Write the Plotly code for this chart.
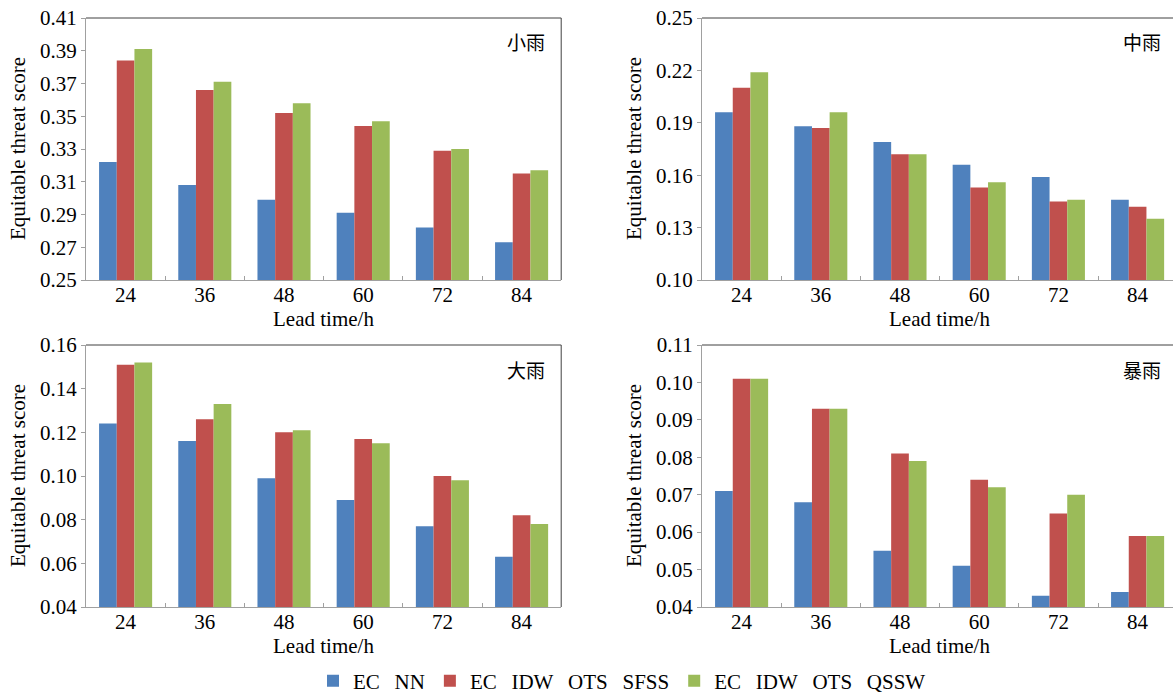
import plotly.graph_objects as go

W, H = 1173, 696

lead_times = ["24", "36", "48", "60", "72", "84"]
SP = "\u00a0\u00a0\u2009"
series_names = ["EC" + SP + "NN",
                "EC" + SP + "IDW" + SP + "OTS" + SP + "SFSS",
                "EC" + SP + "IDW" + SP + "OTS" + SP + "QSSW"]
colors = ["#4F81BD", "#C0504D", "#9BBB59"]

panel_titles = ["小雨", "中雨", "大雨", "暴雨"]

light_nn = [0.322, 0.308, 0.299, 0.291, 0.282, 0.273]
light_sfss = [0.384, 0.366, 0.352, 0.344, 0.329, 0.315]
light_qssw = [0.391, 0.371, 0.358, 0.347, 0.330, 0.317]

moderate_nn = [0.196, 0.188, 0.179, 0.166, 0.159, 0.146]
moderate_sfss = [0.210, 0.187, 0.172, 0.153, 0.145, 0.142]
moderate_qssw = [0.219, 0.196, 0.172, 0.156, 0.146, 0.135]

heavy_nn = [0.124, 0.116, 0.099, 0.089, 0.077, 0.063]
heavy_sfss = [0.151, 0.126, 0.120, 0.117, 0.100, 0.082]
heavy_qssw = [0.152, 0.133, 0.121, 0.115, 0.098, 0.078]

storm_nn = [0.071, 0.068, 0.055, 0.051, 0.043, 0.044]
storm_sfss = [0.101, 0.093, 0.081, 0.074, 0.065, 0.059]
storm_qssw = [0.101, 0.093, 0.079, 0.072, 0.070, 0.059]

y_ranges = [(0.25, 0.41, 0.02), (0.10, 0.25, 0.03), (0.04, 0.16, 0.02), (0.04, 0.11, 0.01)]

panels = [
    [light_nn, light_sfss, light_qssw],
    [moderate_nn, moderate_sfss, moderate_qssw],
    [heavy_nn, heavy_sfss, heavy_qssw],
    [storm_nn, storm_sfss, storm_qssw],
]

# pixel geometry of each plot area: (left, right_nominal, top, bottom)
CAT_W = 79.2
geo = [
    (86, 86 + 6 * CAT_W, 18, 280),
    (702, 702 + 6 * CAT_W, 18, 280),
    (86, 86 + 6 * CAT_W, 345, 607),
    (702, 702 + 6 * CAT_W, 345, 607),
]

FONT = "Liberation Serif, Times New Roman, serif"
CJK = "Noto Sans CJK SC"
FS = 21
AXIS_GRAY = "#A0A0A0"
FRAME = "#404040"

fig = go.Figure()
layout = dict(
    width=W, height=H,
    margin=dict(l=0, r=0, t=0, b=0, autoexpand=False),
    paper_bgcolor="white", plot_bgcolor="white",
    barmode="group", bargap=0.33, bargroupgap=0.0,
    font=dict(family=FONT, size=FS, color="black"),
    showlegend=True,
    legend=dict(orientation="h", x=622 / W, xanchor="center", y=1 - 681 / H, yanchor="middle",
                font=dict(family=FONT, size=FS, color="black"), itemwidth=30,
                bgcolor="rgba(0,0,0,0)"),
)
annotations = []
shapes = []

for i, (vals, (ymin, ymax, dt), (l, r, t, b)) in enumerate(zip(panels, y_ranges, geo)):
    xa = "x" if i == 0 else f"x{i+1}"
    ya = "y" if i == 0 else f"y{i+1}"
    for k in range(3):
        fig.add_trace(go.Bar(
            x=lead_times, y=vals[k], name=series_names[k],
            marker=dict(color=colors[k], line=dict(width=0)),
            xaxis=xa, yaxis=ya, showlegend=(i == 0), legendgroup=str(k),
        ))
    r_vis = min(r, W)
    x_end = -0.5 + (r_vis - l) / CAT_W
    xkey = "xaxis" if i == 0 else f"xaxis{i+1}"
    ykey = "yaxis" if i == 0 else f"yaxis{i+1}"
    layout[xkey] = dict(
        domain=[l / W, r_vis / W], anchor=ya, type="category",
        range=[-0.5, x_end], showline=True, linecolor=AXIS_GRAY, linewidth=1,
        ticks="inside", tickson="boundaries", ticklen=4, tickcolor=AXIS_GRAY,
        ticklabelstandoff=-4,
        showgrid=False, zeroline=False,
        tickfont=dict(family=FONT, size=FS, color="black"),
    )
    layout[ykey] = dict(
        domain=[1 - b / H, 1 - t / H], anchor=xa,
        range=[ymin, ymax], tick0=ymin, dtick=dt, tickformat=".2f",
        showline=True, linecolor=AXIS_GRAY, linewidth=1,
        ticks="outside", ticklen=4, tickcolor=AXIS_GRAY,
        showgrid=False, zeroline=False,
        tickfont=dict(family=FONT, size=FS, color="black"),
    )
    # frame top and right
    shapes.append(dict(type="line", xref="paper", yref="paper",
                       x0=l / W, x1=r_vis / W, y0=1 - t / H, y1=1 - t / H,
                       line=dict(color=FRAME, width=1)))
    if r <= W:
        shapes.append(dict(type="line", xref="paper", yref="paper",
                           x0=r / W, x1=r / W, y0=1 - t / H, y1=1 - b / H,
                           line=dict(color=FRAME, width=1)))
    # y title
    annotations.append(dict(text="Equitable threat score", xref="paper", yref="paper",
                            x=(l - 68) / W, y=1 - (t + b) / 2 / H, textangle=-90,
                            xanchor="center", yanchor="middle", showarrow=False,
                            font=dict(family=FONT, size=FS, color="black")))
    # x title
    annotations.append(dict(text="Lead time/h", xref="paper", yref="paper",
                            x=(l + r) / 2 / W, y=1 - (b + 39) / H,
                            xanchor="center", yanchor="middle", showarrow=False,
                            font=dict(family=FONT, size=FS, color="black")))
    # panel label
    annotations.append(dict(text=panel_titles[i], xref="paper", yref="paper",
                            x=(r - 14) / W, y=1 - (t + 24) / H,
                            xanchor="right", yanchor="middle", showarrow=False,
                            font=dict(family=CJK, size=19, color="black")))

layout["annotations"] = annotations
layout["shapes"] = shapes
fig.update_layout(**layout)
fig.write_html("out.html", config={"displayModeBar": False},
               post_script="document.body.style.margin='0';document.body.style.overflow='hidden';")
